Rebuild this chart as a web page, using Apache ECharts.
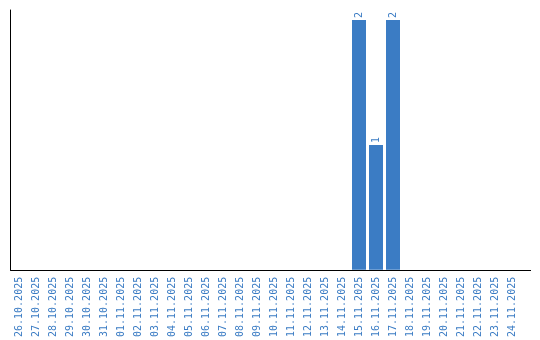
<!DOCTYPE html>
<html><head><meta charset="utf-8">
<script src="https://cdn.jsdelivr.net/npm/echarts@6/dist/echarts.min.js"></script>
<style>html,body{margin:0;padding:0;background:#fff}#c{width:540px;height:340px}</style>
</head><body><div id="c"></div>
<script>
const categories = ["26.10.2025","27.10.2025","28.10.2025","29.10.2025","30.10.2025","31.10.2025","01.11.2025","02.11.2025","03.11.2025","04.11.2025","05.11.2025","06.11.2025","07.11.2025","08.11.2025","09.11.2025","10.11.2025","11.11.2025","12.11.2025","13.11.2025","14.11.2025","15.11.2025","16.11.2025","17.11.2025","18.11.2025","19.11.2025","20.11.2025","21.11.2025","22.11.2025","23.11.2025","24.11.2025"];
const values = [0,0,0,0,0,0,0,0,0,0,0,0,0,0,0,0,0,0,0,0,2,1,2,0,0,0,0,0,0,0];
const blue = '#3b7cc4';
const chart = echarts.init(document.getElementById('c'), null, {renderer:'canvas'});
chart.setOption({
  animation:false,
  grid:{left:10.5, top:10, width:510, height:260, containLabel:false},
  graphic:[{type:'line', shape:{x1:520, y1:270.5, x2:531, y2:270.5}, style:{stroke:'#000', lineWidth:1}}],
  xAxis:{type:'category', data:categories,
    axisLine:{show:true, lineStyle:{color:'#000', width:1}},
    axisTick:{show:false},
    axisLabel:{rotate:90, interval:0, fontSize:10, fontFamily:'DejaVu Sans Mono', color:blue, margin:7}},
  yAxis:{type:'value', min:0, max:2.08,
    axisLine:{show:true, lineStyle:{color:'#000', width:1}},
    axisTick:{show:false}, axisLabel:{show:false}, splitLine:{show:false}},
  series:[{type:'bar', data:values.map(v=>v===0?null:v), barWidth:14,
    itemStyle:{color:blue},
    label:{show:true, position:'top', rotate:90, align:'left', verticalAlign:'middle', distance:2,
      fontSize:10, fontFamily:'DejaVu Sans Mono', color:blue}}]
});
</script></body></html>
